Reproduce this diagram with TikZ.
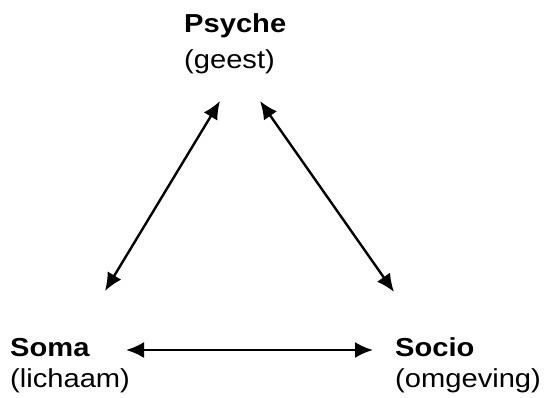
\documentclass[tikz,border=0pt]{standalone}
\usepackage{fontspec}
\setmainfont{Liberation Sans}
\usetikzlibrary{arrows.meta}
\tikzset{
  lbl/.style={anchor=base west, inner sep=0pt, align=left, xscale=1.12,
    font=\fontsize{26}{31}\selectfont},
  link/.style={line width=2.4pt, {Latex[length=18pt,width=16pt]}-{Latex[length=18pt,width=16pt]}}
}
\begin{document}
\begin{tikzpicture}[x=1pt,y=1pt]
\useasboundingbox (0,0) rectangle (548,397);
\node[lbl] (psyche) at (184,328) {\textbf{Psyche}\\[5pt](geest)};
\node[lbl] (soma) at (10,10) {\textbf{Soma}\\(lichaam)};
\node[lbl] (socio) at (395,10) {\textbf{Socio}\\(omgeving)};
\coordinate (psL) at (220,296);
\coordinate (psR) at (260,296);
\coordinate (soT) at (105,106);
\coordinate (soR) at (126,47);
\coordinate (scT) at (394,105);
\coordinate (scL) at (373,47);
\draw[link] (soT) -- (psL);
\draw[link] (psR) -- (scT);
\draw[link] (soR) -- (scL);
\end{tikzpicture}
\end{document}
